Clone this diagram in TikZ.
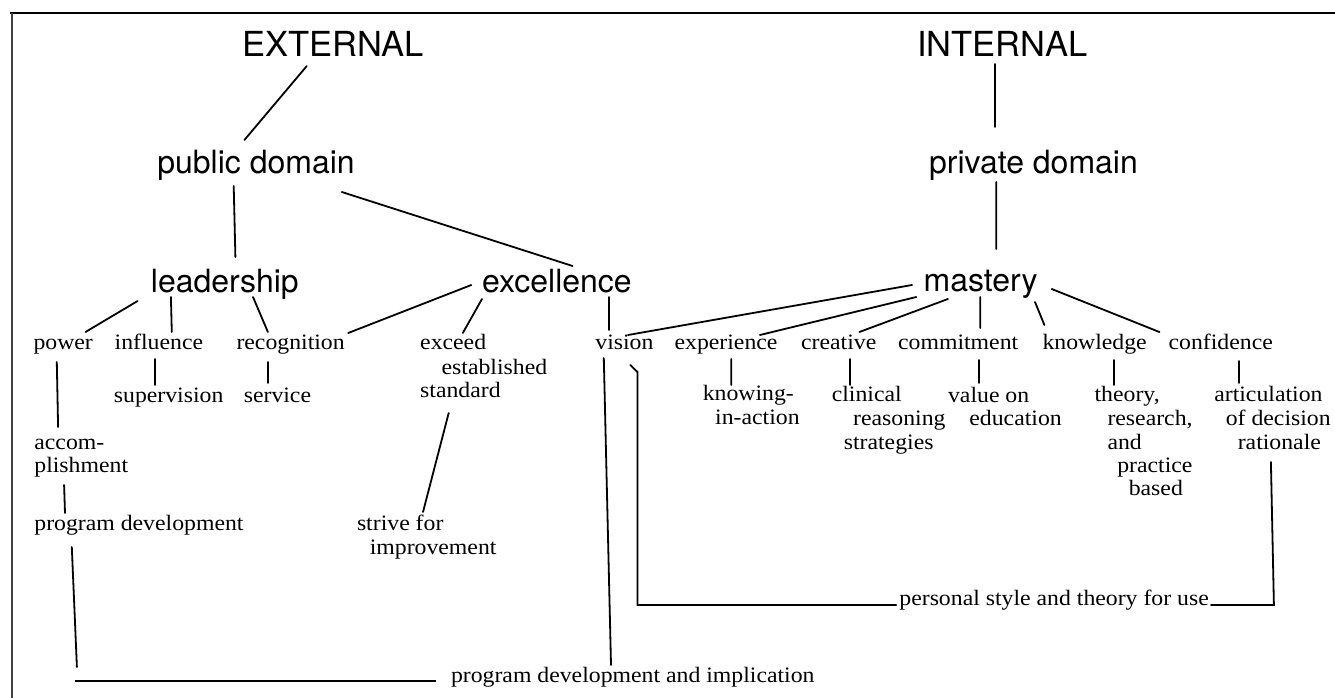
\documentclass[tikz,border=0pt]{standalone}
\usepackage{fontspec}
\newfontfamily\hv{TeX Gyre Heros}
\newfontfamily\lserif[FakeStretch=1.08]{Liberation Serif}
\begin{document}
\begin{tikzpicture}[x=1pt,y=-1pt,
  hdr/.style={anchor=base,inner sep=0pt,font=\hv\fontsize{34.5}{40}\selectfont},
  dom/.style={anchor=base,inner sep=0pt,font=\hv\fontsize{32}{38}\selectfont},
  lbl/.style={anchor=mid west,inner sep=0pt,font=\lserif\fontsize{22}{24}\selectfont},
  conn/.style={line width=1.8pt,line cap=round}]
\useasboundingbox (0,0) rectangle (1335,698);
% frame
\draw[line width=2.2pt] (10,13) -- (1335,13);
\draw[line width=1.6pt,black!75] (12,13) -- (12,698);
% headings
\node[hdr] (ext) at (333,57) {EXTERNAL};
\node[hdr] (int) at (1002.5,57) {INTERNAL};
\node[dom] (pub) at (256,173) {public domain};
\node[dom] (priv) at (1033.5,173) {private domain};
\node[dom] (lead) at (224.8,292) {leadership};
\node[dom] (exc) at (557,292) {excellence};
\node[dom] (mas) at (980.6,291) {mastery};
% level 3
\node[lbl] (pow) at (33.3,347) {power};
\node[lbl] (inf) at (114.5,347) {influence};
\node[lbl] (rec) at (236.3,347) {recognition};
\node[lbl] (exA) at (420,347) {exceed};
\node[lbl] (exB) at (441.4,372) {established};
\node[lbl] (exC) at (420,395) {standard};
\node[lbl] (vis) at (595.2,347) {vision};
\node[lbl] (expn) at (674.4,347) {experience};
\node[lbl] (cre) at (800.9,347) {creative};
\node[lbl] (com) at (897.9,347) {commitment};
\node[lbl] (kno) at (1042.3,347) {knowledge};
\node[lbl] (con) at (1168.4,347) {confidence};
% level 4
\node[lbl] (sup) at (113.7,400) {supervision};
\node[lbl] (ser) at (243.6,400) {service};
\node[lbl] (accA) at (34.2,447) {accom-};
\node[lbl] (accB) at (34.2,470) {plishment};
\node[lbl] (pd) at (34.2,528) {program development};
\node[lbl] (stA) at (356.8,528) {strive for};
\node[lbl] (stB) at (369.6,552) {improvement};
\node[lbl] (pdi) at (450.8,680) {program development and implication};
\node[lbl] (knA) at (702.6,398) {knowing-};
\node[lbl] (knB) at (715,422) {in-action};
\node[lbl] (clA) at (831.6,399) {clinical};
\node[lbl] (clB) at (853,423) {reasoning};
\node[lbl] (clC) at (843.6,447) {strategies};
\node[lbl] (vaA) at (947.9,400) {value on};
\node[lbl] (vaB) at (969.2,423) {education};
\node[lbl] (thA) at (1094.4,399) {theory,};
\node[lbl] (thB) at (1107.3,423) {research,};
\node[lbl] (thC) at (1107.3,447) {and};
\node[lbl] (thD) at (1117.1,470) {practice};
\node[lbl] (thE) at (1128.6,493) {based};
\node[lbl] (arA) at (1214.1,399) {articulation};
\node[lbl] (arB) at (1225.6,423) {of decision};
\node[lbl] (arC) at (1237.6,447) {rationale};
\node[lbl] (psu) at (899.2,603) {personal style and theory for use};
% connectors
\draw[conn] ([shift={(-26.2,9)}]ext.base) -- ([shift={(-11.6,-33)}]pub.base);
\draw[conn] ([shift={(-22.3,13)}]pub.base) -- ([shift={(10.6,-35)}]lead.base);
\draw[conn] ([shift={(85.8,19)}]pub.base) -- ([shift={(15.6,-26)}]exc.base);
\draw[conn] ([shift={(-7.2,7)}]int.base) -- ([shift={(-38.2,-46)}]priv.base);
\draw[conn] ([shift={(-37.3,9)}]priv.base) -- ([shift={(15.6,-42)}]mas.base);
\draw[conn] ([shift={(-87.2,9)}]lead.base) -- ([shift={(52.2,-15)}]pow.mid west);
\draw[conn] ([shift={(-53.9,5)}]lead.base) -- ([shift={(57.3,-15)}]inf.mid west);
\draw[conn] ([shift={(28.2,5)}]lead.base) -- ([shift={(31.6,-15)}]rec.mid west);
\draw[conn] ([shift={(-85.7,-7)}]exc.base) -- ([shift={(111.9,-14)}]rec.mid west);
\draw[conn] ([shift={(-75,7)}]exc.base) -- ([shift={(42.8,-14)}]exA.mid west);
\draw[conn] ([shift={(51.9,5)}]exc.base) -- ([shift={(13.7,-17)}]vis.mid west);
\draw[conn] ([shift={(-68.6,-6)}]mas.base) -- ([shift={(32.8,-12)}]vis.mid west);
\draw[conn] ([shift={(-64.3,6)}]mas.base) -- ([shift={(85.5,-12)}]expn.mid west);
\draw[conn] ([shift={(-32.7,8)}]mas.base) -- ([shift={(58.5,-15)}]cre.mid west);
\draw[conn] ([shift={(-0.3,6)}]mas.base) -- ([shift={(82.4,-19)}]com.mid west);
\draw[conn] ([shift={(54.4,11)}]mas.base) -- ([shift={(2.1,-22)}]kno.mid west);
\draw[conn] ([shift={(71.1,-2)}]mas.base) -- ([shift={(-9,-15)}]con.mid west);
\draw[conn] ([shift={(40.2,12)}]inf.mid west) -- ([shift={(41,-15)}]sup.mid west);
\draw[conn] ([shift={(32,15)}]rec.mid west) -- ([shift={(24.7,-17)}]ser.mid west);
\draw[conn] ([shift={(23.5,15)}]pow.mid west) -- ([shift={(23.9,-20)}]accA.mid west);
\draw[conn] ([shift={(29.9,15)}]accB.mid west) -- ([shift={(30.8,-15)}]pd.mid west);
\draw[conn] ([shift={(28.7,18)}]exC.mid west) -- ([shift={(66.2,-16)}]stA.mid west);
\draw[conn] ([shift={(37.6,19)}]pd.mid west) -- ([shift={(-373.9,-13)}]pdi.mid west);
\draw[line width=2.2pt] ([shift={(-376,1)}]pdi.mid west) -- ([shift={(-15,1)}]pdi.mid west);
\draw[conn] ([shift={(8.6,11)}]vis.mid west) -- ([shift={(160.2,-15)}]pdi.mid west);
\draw[conn] ([shift={(35.1,18)}]vis.mid west) -- ++(7.2,7) |- ([shift={(-3,2)}]psu.mid west);
\draw[conn] ([shift={(33.3,15)}]arC.mid west) -- ++(3,143) -- ([shift={(2,2)}]psu.mid east);
\draw[conn] ([shift={(56.8,12)}]expn.mid west) -- ([shift={(28.6,-13)}]knA.mid west);
\draw[conn] ([shift={(49.1,12)}]cre.mid west) -- ([shift={(18.4,-14)}]clA.mid west);
\draw[conn] ([shift={(81.1,13)}]com.mid west) -- ([shift={(31.1,-17)}]vaA.mid west);
\draw[conn] ([shift={(71.4,13)}]kno.mid west) -- ([shift={(19.3,-14)}]thA.mid west);
\draw[conn] ([shift={(70.5,14)}]con.mid west) -- ([shift={(24.8,-16)}]arA.mid west);
\end{tikzpicture}
\end{document}
